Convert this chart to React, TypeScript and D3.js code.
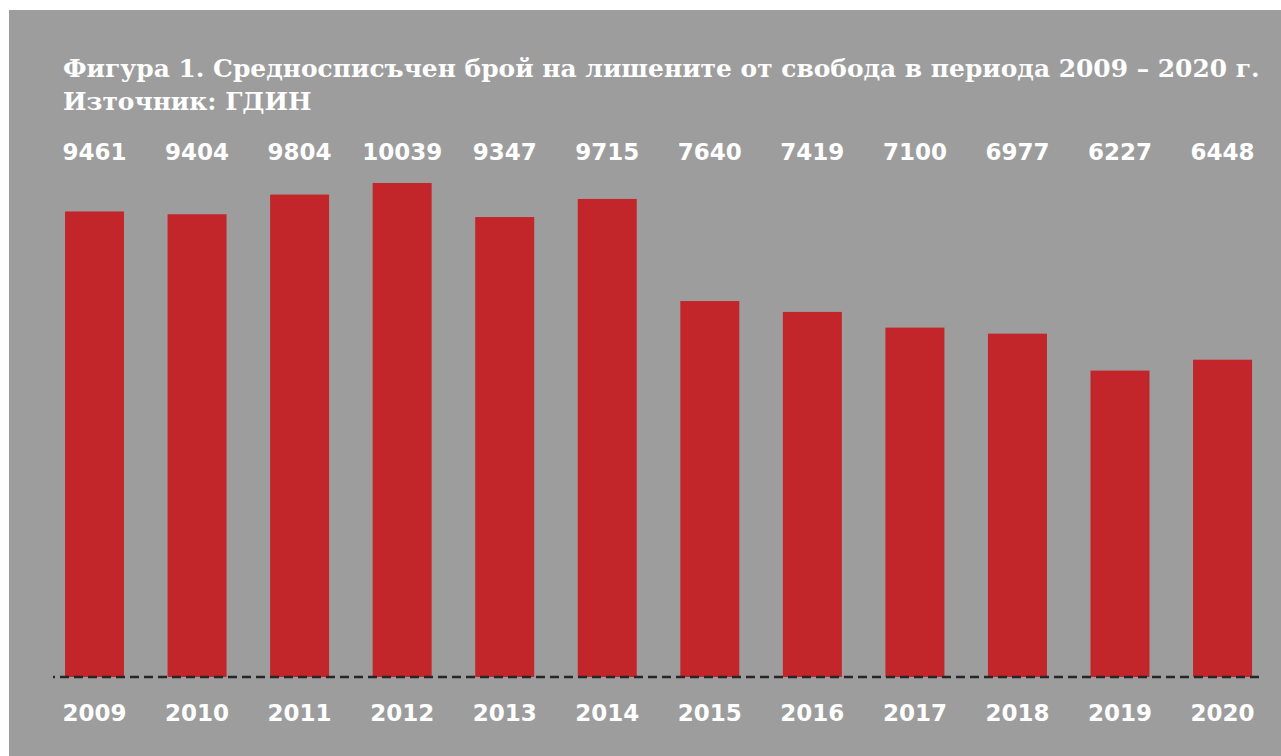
import React from "react";
import * as d3 from "d3";

const years = ["2009", "2010", "2011", "2012", "2013", "2014", "2015", "2016", "2017", "2018", "2019", "2020"];
const values = [9461, 9404, 9804, 10039, 9347, 9715, 7640, 7419, 7100, 6977, 6227, 6448];
const titleLines = [
  "Фигура 1. Средносписъчен брой на лишените от свобода в периода 2009 – 2020 г.",
  "Източник: ГДИН",
];

const W = 1281;
const H = 756;

export default function App() {
  const baseY = 677;
  const y = d3.scaleLinear().domain([0, 10039]).range([baseY, 183]);
  const bw = 59;
  const step = 102.55;
  const x0 = 65;
  const x = d3.scalePoint<string>().domain(years).range([x0, x0 + step * (years.length - 1)]);
  return (
    <svg width={W} height={H} style={{ position: "absolute", left: 0, top: 0 }}>
      <rect x={9} y={10} width={W - 9} height={H - 10} fill="#9d9d9d" />
      {titleLines.map((t, i) => (
        <text key={i} x={63} y={77 + i * 33} fill="#ffffff" fontFamily="DejaVu Serif" fontWeight="bold" fontSize={24.9}>
          {t}
        </text>
      ))}
      {values.map((v, i) => (
        <rect key={years[i]} x={x(years[i])} y={y(v)} width={bw} height={baseY - y(v)} fill="#c3262a" />
      ))}
      <line x1={53} x2={1264} y1={baseY} y2={baseY} stroke="#262626" strokeWidth={2.6} strokeDasharray="9 5" strokeDashoffset={7} />
      {values.map((v, i) => (
        <text key={"v" + i} x={(x(years[i]) as number) + bw / 2} y={160} textAnchor="middle" fill="#ffffff" fontFamily="DejaVu Sans" fontWeight="bold" fontSize={23}>
          {v}
        </text>
      ))}
      {years.map((yr, i) => (
        <text key={"y" + i} x={(x(yr) as number) + bw / 2} y={721} textAnchor="middle" fill="#ffffff" fontFamily="DejaVu Sans" fontWeight="bold" fontSize={23}>
          {yr}
        </text>
      ))}
    </svg>
  );
}
